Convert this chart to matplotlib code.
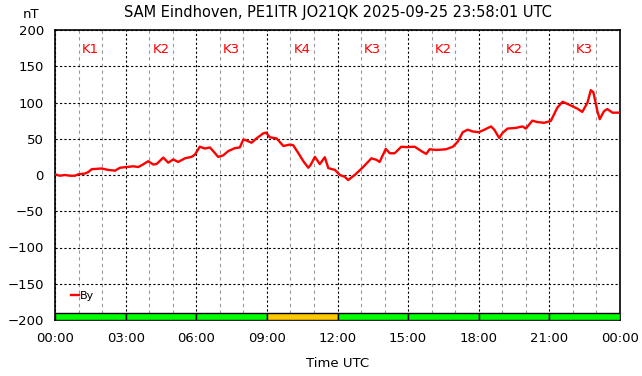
import matplotlib.pyplot as plt
import numpy as np
from matplotlib.ticker import MultipleLocator

# By component (hour UTC, nT)
hours = [0.0, 0.2, 0.42, 0.64, 0.85, 0.99, 1.27, 1.41, 1.56, 1.98, 2.26, 2.55, 2.76,
         3.04, 3.32, 3.54, 3.71, 3.96, 4.17, 4.31, 4.6, 4.81, 5.02, 5.23, 5.52, 5.8,
         5.94, 6.15, 6.37, 6.58, 6.72, 6.93, 7.14, 7.36, 7.64, 7.85, 8.0, 8.14, 8.35,
         8.56, 8.85, 8.96, 9.13, 9.41, 9.7, 9.98, 10.12, 10.34, 10.55, 10.76, 10.86,
         11.04, 11.25, 11.46, 11.61, 11.89, 12.1, 12.31, 12.45, 12.73, 13.09, 13.44,
         13.65, 13.79, 14.05, 14.22, 14.43, 14.71, 14.92, 15.28, 15.56, 15.77, 15.91,
         16.19, 16.61, 16.9, 17.11, 17.32, 17.53, 17.75, 18.0, 18.24, 18.52, 18.66,
         18.87, 19.01, 19.22, 19.58, 19.86, 20.0, 20.28, 20.49, 20.78, 21.06, 21.34,
         21.56, 21.84, 22.19, 22.4, 22.62, 22.76, 22.87, 23.04, 23.14, 23.32, 23.46,
         23.68, 24.0]
by_nt = [1, -1, 0, -1, -1, 1, 2, 4, 8, 9, 7, 6, 10,
         11, 12, 11, 14, 19, 14.5, 15, 24, 17, 21.5, 18, 23, 25,
         28, 39, 36.5, 38, 33, 25, 27, 33, 37, 38, 49, 47.5, 44.5,
         50.5, 57.5, 58.5, 52, 50.5, 40, 42, 41, 30, 19, 10, 14,
         25, 15, 24.5, 9.5, 7, 0, -2.5, -7, 0, 11, 23,
         21, 18, 36, 30, 30, 39, 38.5, 39, 33, 29, 35.5,
         34.5, 35.5, 39, 46, 59, 62.5, 60, 59, 62.5, 67, 62.5,
         51, 58, 64, 65, 67, 64, 75, 73, 72, 74.5, 93,
         101, 97, 91.5, 87, 100, 117, 114, 88, 77, 88, 91,
         86, 86]

# 3-hour K indices
k_start = [0, 3, 6, 9, 12, 15, 18, 21]
k_index = [1, 2, 3, 4, 3, 2, 2, 3]

tick_hours = [0, 3, 6, 9, 12, 15, 18, 21, 24]
tick_labels = ['00:00', '03:00', '06:00', '09:00', '12:00',
               '15:00', '18:00', '21:00', '00:00']

fig = plt.figure(figsize=(6.42, 3.76), dpi=100)
ax = fig.add_axes([55/642, 1 - 320/376, 565/642, 290/376])

# K index bar along the bottom
for s, k in zip(k_start, k_index):
    col = '#ffc800' if k >= 4 else '#00ff00'
    ax.bar(s, 10, width=3, bottom=-200, align='edge', color=col,
           edgecolor='black', linewidth=1, zorder=3)
    ax.text(s + 1.5, 173, 'K%d' % k, color='red', fontsize=9.5,
            ha='center', va='center', zorder=4)

ax.plot(hours, by_nt, color='red', lw=1.7, label='By', zorder=5)

ax.set_xlim(0, 24)
ax.set_ylim(-200, 200)
ax.set_xticks(tick_hours)
ax.set_xticklabels(tick_labels)
ax.set_yticks(np.arange(-200, 201, 50))
ax.xaxis.set_minor_locator(MultipleLocator(1))
ax.tick_params(which='both', length=0, labelsize=9.5)
ax.tick_params(axis='x', pad=9)
ax.tick_params(axis='y', pad=8)

ax.grid(which='major', color='black', linestyle=(0, (2, 2)), lw=0.8)
ax.grid(which='minor', axis='x', color='#999999', linestyle=(0, (3, 3)), lw=0.8)
ax.set_axisbelow(True)
for sp in ax.spines.values():
    sp.set_linewidth(1.2)

ax.set_title('SAM Eindhoven, PE1ITR JO21QK 2025-09-25 23:58:01 UTC',
             fontsize=10.5, pad=9)
ax.set_xlabel('Time UTC', fontsize=9.5, labelpad=8)
fig.text(31/642, 1 - 15/376, 'nT', fontsize=9.5, ha='center', va='center')

ax.legend(loc='center left', bbox_to_anchor=(0.028, 0.083), frameon=False,
          fontsize=8, handlelength=0.7, handletextpad=0.1, borderpad=0,
          borderaxespad=0)

fig.savefig('out.png', dpi=100)
